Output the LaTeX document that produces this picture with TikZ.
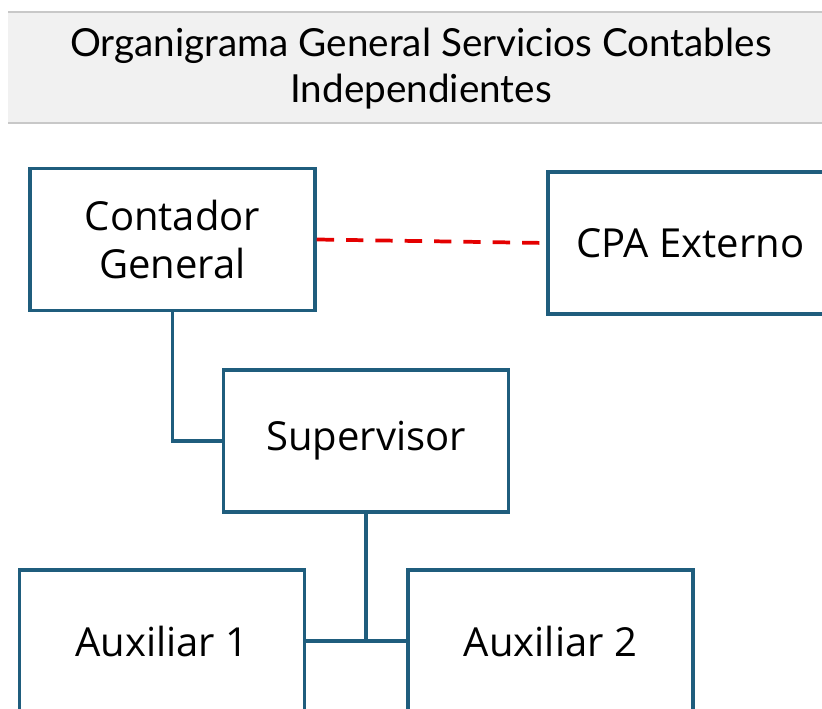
\documentclass[tikz,border=0pt]{standalone}
\usepackage{fontspec}
\setmainfont{Open Sans}
\newfontfamily\titlefont{Lato}
\usetikzlibrary{positioning}

\definecolor{cajaazul}{RGB}{31,93,125}
\definecolor{fondogris}{RGB}{241,241,241}
\definecolor{lineagris}{RGB}{200,200,200}
\definecolor{rojolinea}{RGB}{228,0,0}

\begin{document}
\begin{tikzpicture}[
            x=0.75pt,y=-0.75pt,
            puesto/.style={draw=cajaazul,line width=2.6pt,fill=white,
                minimum width=213.75pt,minimum height=106.5pt,
                align=center,font=\fontsize{30}{36}\selectfont,inner sep=0pt},
            enlace/.style={draw=cajaazul,line width=2.6pt},
            externo/.style={draw=rojolinea,line width=2.8pt,dash pattern=on 13pt off 9pt}
        ]
            \useasboundingbox (0,0) rectangle (822,709);
            \clip (0,0) rectangle (822,709);
            % titulo
            \fill[fondogris] (8,12) rectangle (830,123);
            \draw[lineagris,line width=0.9pt] (8,12) -- (830,12) (8,123) -- (830,123);
            \node[font=\titlefont\fontsize{29}{34.5}\selectfont,align=center] (titulo) at (421,69)
                {Organigrama General Servicios Contables\\Independientes};
            % puestos
            \node[puesto] (contador) at (172.5,239.5) {Contador\\General};
            \node[puesto] (cpa) at (690.5,243) {CPA Externo};
            \node[puesto] (supervisor) at (366,441) {Supervisor};
            \node[puesto] (aux1) at (162,641) {Auxiliar 1};
            \node[puesto] (aux2) at (550.5,641) {Auxiliar 2};
            % lineas
            \draw[externo] (contador.east) -- (cpa.west);
            \draw[enlace] (contador.south) |- (supervisor.west);
            \draw[enlace] (supervisor.south) -- (supervisor.south |- aux1.east);
            \draw[enlace] (aux1.east) -- (aux2.west);
        \end{tikzpicture}
\end{document}
